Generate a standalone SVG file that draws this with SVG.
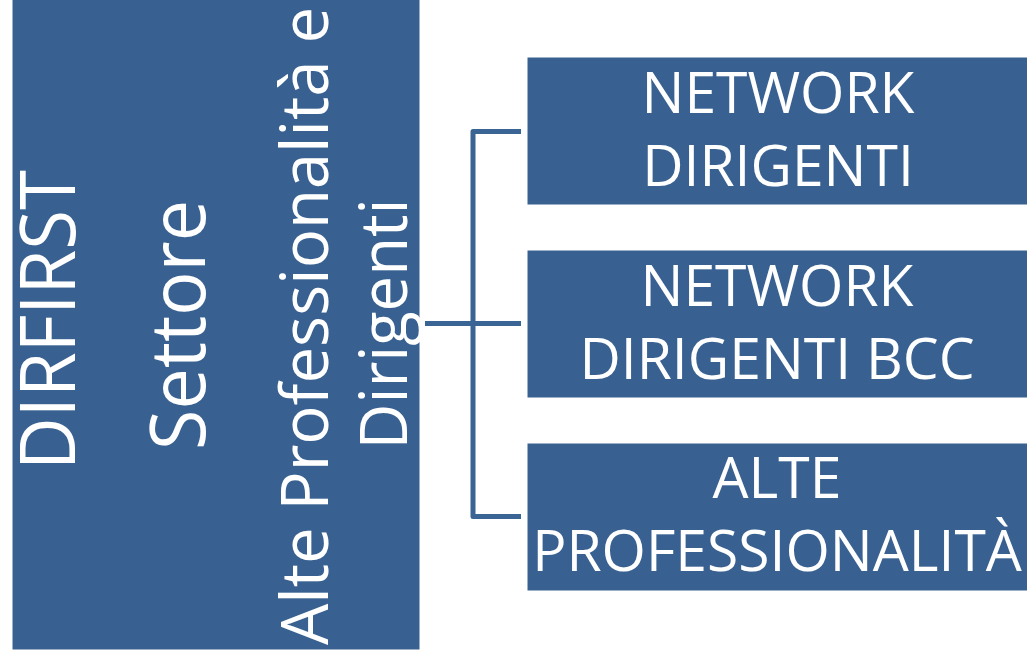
<svg xmlns="http://www.w3.org/2000/svg" width="1027" height="658" viewBox="0 0 1027 658">
  <style>
    .box { fill: #386090; stroke: #ffffff; stroke-width: 1; }
    .lbl { font-family: "Open Sans", "Liberation Sans", sans-serif; fill: #ffffff; text-anchor: middle; }
    .big { font-size: 76px; }
    .mid { font-size: 66px; }
    .sm { font-size: 57px; }
    .conn { fill: none; stroke: #3A6494; stroke-width: 5; stroke-linejoin: round; }
  </style>
  <rect x="0" y="0" width="1027" height="658" fill="#ffffff"/>
  <g id="connectors">
    <path class="conn" d="M425,323.5 H521"/>
    <path class="conn" d="M521,131.5 H473 V516.5 H521"/>
  </g>
  <g id="node-dirfirst">
    <rect class="box" x="12" y="-10" width="408" height="660"/>
    <text class="lbl big" transform="translate(75,320) rotate(-90)" textLength="300" lengthAdjust="spacingAndGlyphs">DIRFIRST</text>
    <text class="lbl big" transform="translate(205,325) rotate(-90)" textLength="250" lengthAdjust="spacingAndGlyphs">Settore</text>
    <text class="lbl mid" transform="translate(328,326) rotate(-90)" textLength="638" lengthAdjust="spacingAndGlyphs">Alte Professionalità e</text>
    <text class="lbl mid" transform="translate(407,324) rotate(-90)" textLength="251" lengthAdjust="spacingAndGlyphs">Dirigenti</text>
  </g>
  <g id="node-network-dirigenti">
    <rect class="box" x="527" y="57" width="510" height="148"/>
    <text class="lbl sm" x="778" y="113">NETWORK</text>
    <text class="lbl sm" x="778" y="186">DIRIGENTI</text>
  </g>
  <g id="node-network-dirigenti-bcc">
    <rect class="box" x="527" y="250" width="510" height="148"/>
    <text class="lbl sm" x="777" y="306">NETWORK</text>
    <text class="lbl sm" x="777" y="379">DIRIGENTI BCC</text>
  </g>
  <g id="node-alte-professionalita">
    <rect class="box" x="527" y="443" width="510" height="148"/>
    <text class="lbl sm" x="777" y="498">ALTE</text>
    <text class="lbl sm" x="777" y="571">PROFESSIONALITÀ</text>
  </g>
</svg>
